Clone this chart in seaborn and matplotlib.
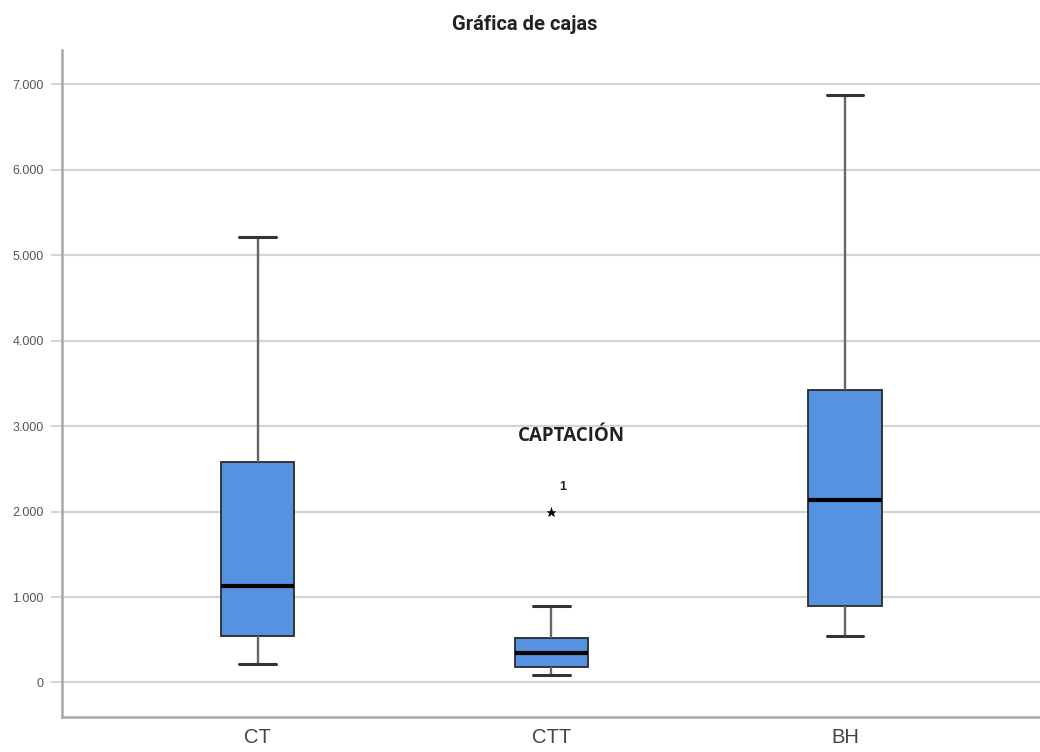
import matplotlib
matplotlib.use("Agg")
import matplotlib.pyplot as plt
import seaborn as sns
import pandas as pd

# Observations per group
categories = ["CT", "CTT", "BH"]
ct_values = [215, 545, 1130, 2575, 5210]
ctt_values = [90, 185, 185, 350, 350, 525, 525, 900, 2000]
bh_values = [540, 890, 2130, 3420, 6870]

outlier_case = "1"
outlier_value = 2000

yticks = [0, 1000, 2000, 3000, 4000, 5000, 6000, 7000]
ytick_labels = ["0", "1.000", "2.000", "3.000", "4.000", "5.000", "6.000", "7.000"]

df = pd.DataFrame({
    "grupo": (["CT"] * len(ct_values) + ["CTT"] * len(ctt_values) + ["BH"] * len(bh_values)),
    "valor": ct_values + ctt_values + bh_values,
})

sns.set_theme(style="white")
plt.rcParams["font.family"] = ["Liberation Sans", "DejaVu Sans"]

fig = plt.figure(figsize=(10.4, 7.52), dpi=100)
ax = fig.add_axes([0.0593, 0.047, 0.9407, 0.8865])

box_color = "#5592e2"
sns.boxplot(
    data=df, x="grupo", y="valor", order=categories, ax=ax,
    color=box_color, saturation=1, width=0.25, linewidth=1.3,
    linecolor="#2a2a2a",
    medianprops=dict(color="black", linewidth=3),
    whiskerprops=dict(color="#666666", linewidth=1.7),
    capprops=dict(color="#333333", linewidth=2.2),
    boxprops=dict(edgecolor="#2a2a2a", linewidth=1.3),
    flierprops=dict(marker="*", markersize=6.5, markerfacecolor="black",
                    markeredgecolor="black", markeredgewidth=0.4),
)

ax.set_xlim(-0.667, 2.664)
ax.set_ylim(-400, 7400)
ax.set_yticks(yticks)
ax.set_yticklabels(ytick_labels)
ax.set_xlabel("")
ax.set_ylabel("")

ax.set_axisbelow(True)
ax.yaxis.grid(True, color="#d4d4d4", linewidth=1.6)
ax.xaxis.grid(False)

for side in ["top", "right"]:
    ax.spines[side].set_visible(False)
for side in ["left", "bottom"]:
    ax.spines[side].set_color("#a8a8a8")
    ax.spines[side].set_linewidth(1.8)

ax.tick_params(axis="y", which="both", left=True, length=8, width=1.4,
               color="#d4d4d4", labelsize=9, labelcolor="#555555", pad=5)
ax.tick_params(axis="x", length=0, labelsize=14.5, labelcolor="#444444", pad=8)

# Case label for the outlier in CTT
ax.text(1.04, outlier_value + 290, outlier_case, ha="center", va="center",
        fontsize=9, fontweight="bold", color="#222222")

ax.text(1.07, 2880, "CAPTACIÓN", ha="center", va="center",
        fontsize=13.5, fontweight="bold", color="#222222",
        family=["Open Sans", "DejaVu Sans"])

fig.text(525 / 1040, 1 - 24 / 752, "Gráfica de cajas", ha="center", va="center",
         fontsize=14.5, fontweight="bold", color="#222222",
         family=["Roboto", "DejaVu Sans"])

fig.savefig("out.png", dpi=100, facecolor="white")
